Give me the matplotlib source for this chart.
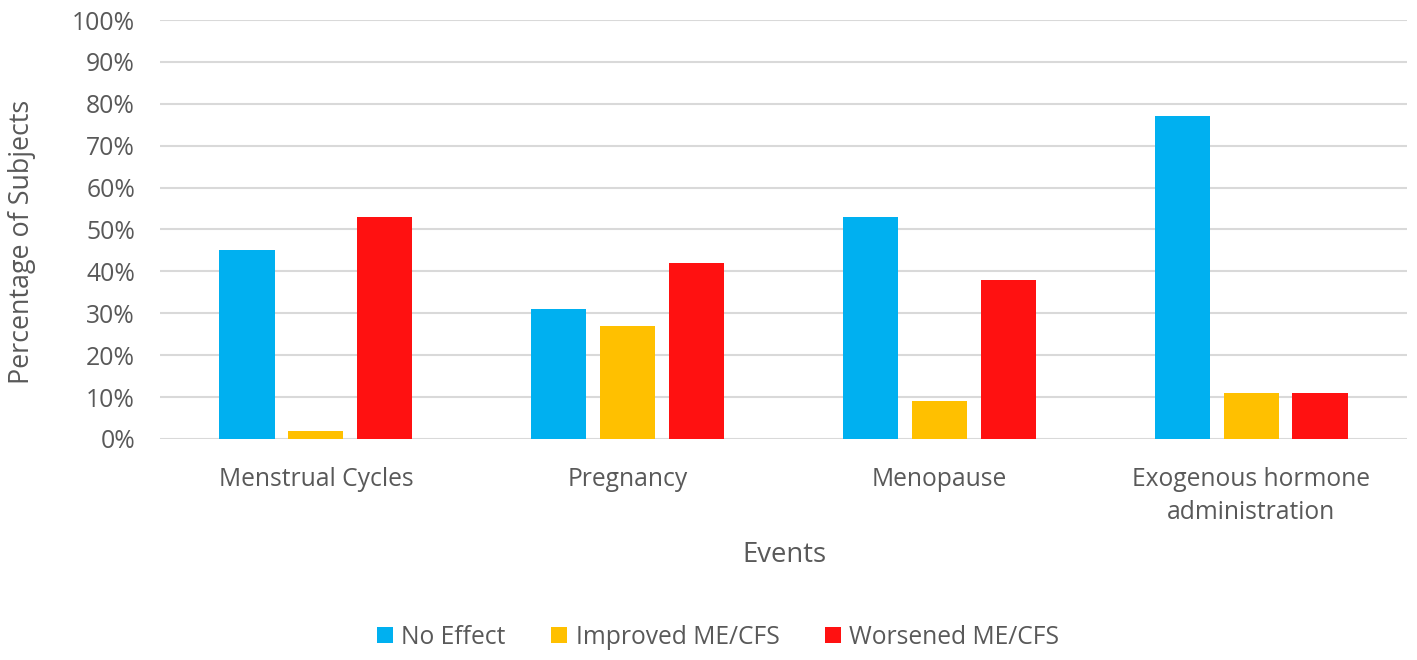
import matplotlib
matplotlib.use("Agg")
import matplotlib.pyplot as plt
import numpy as np

categories = ["Menstrual Cycles", "Pregnancy", "Menopause", "Exogenous hormone\nadministration"]
series_names = ["No Effect", "Improved ME/CFS", "Worsened ME/CFS"]
no_effect = [45, 31, 53, 77]
improved = [2, 27, 9, 11]
worsened = [53, 42, 38, 11]
yticks = [0, 10, 20, 30, 40, 50, 60, 70, 80, 90, 100]
colors = ["#00B0F0", "#FFC000", "#FF1111"]

plt.rcParams['font.family'] = ['Open Sans', 'DejaVu Sans']
txt = "#595959"

fig = plt.figure(figsize=(14.17, 6.6), dpi=100)
ax = fig.add_axes([160/1417, 1-439/660, 1247/1417, 419/660])

x = np.arange(len(categories))
bw = 0.177
step = 0.221
for i, (vals, name, c) in enumerate(zip([no_effect, improved, worsened], series_names, colors)):
    ax.bar(x + (i-1)*step, vals, width=bw, color=c, label=name, zorder=3)

ax.set_xlim(-0.5, len(categories)-0.5)
ax.set_ylim(0, 100)
ax.set_yticks(yticks)
ax.set_yticklabels([f"{v}%" for v in yticks], fontsize=17.8, color=txt)
ax.set_xticks(x)
ax.set_xticklabels(categories, fontsize=17.7, color=txt, linespacing=1.45)
ax.tick_params(axis='both', length=0)
ax.tick_params(axis='y', pad=18)
ax.tick_params(axis='x', pad=20)
for s in ax.spines.values():
    s.set_visible(False)
ax.yaxis.grid(True, color="#D9D9D9", linewidth=1.5, zorder=0)
ax.set_axisbelow(True)

fig.text(22/1417, 1-242/660, "Percentage of Subjects", rotation=90, ha='center', va='center', fontsize=19.4, color=txt)
fig.text(784/1417, 1-555/660, "Events", ha='center', va='center', fontsize=19.8, color=txt)

leg = fig.legend(loc='center', bbox_to_anchor=(718/1417, 1-637/660), ncol=3, frameon=False,
                 fontsize=17.7, handlelength=0.65, handleheight=0.65, handletextpad=0.35, columnspacing=1.85)
for t in leg.get_texts():
    t.set_color(txt)

fig.savefig("out.png", dpi=100)
